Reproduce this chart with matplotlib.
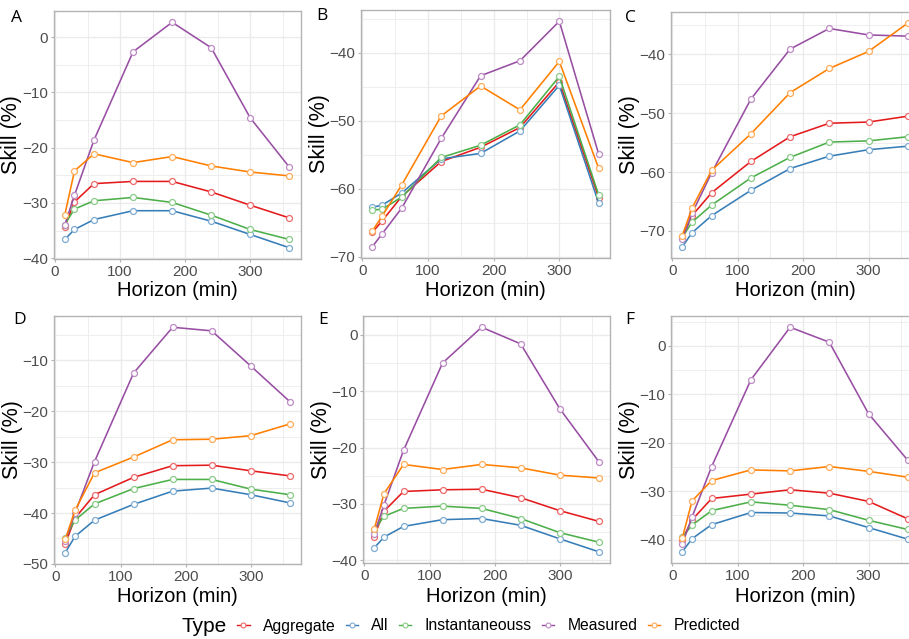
import matplotlib
matplotlib.use("Agg")
import matplotlib.pyplot as plt
from matplotlib.lines import Line2D
import numpy as np

plt.rcParams['font.family'] = ['Liberation Sans', 'DejaVu Sans']

horizon = [15, 30, 60, 120, 180, 240, 300, 360]
types = ["Aggregate", "All", "Instantaneouss", "Measured", "Predicted"]
colors = {"Aggregate": "#E41A1C", "All": "#377EB8", "Instantaneouss": "#4DAF4A",
          "Measured": "#984EA3", "Predicted": "#FF7F00"}

panel_A = {
    "Aggregate":      [-34.3, -29.8, -26.5, -26.1, -26.1, -28.0, -30.4, -32.7],
    "All":            [-36.6, -34.8, -33.0, -31.4, -31.4, -33.3, -35.7, -38.1],
    "Instantaneouss": [-33.9, -31.1, -29.6, -29.0, -29.9, -32.2, -34.8, -36.6],
    "Measured":       [-34.0, -28.6, -18.6, -2.65, 2.7, -1.9, -14.6, -23.5],
    "Predicted":      [-32.2, -24.2, -21.1, -22.7, -21.6, -23.3, -24.4, -25.1],
}
panel_B = {
    "Aggregate":      [-66.4, -64.7, -61.1, -56.0, -53.9, -51.0, -44.3, -61.3],
    "All":            [-62.7, -62.4, -60.6, -55.6, -54.8, -51.5, -44.8, -62.1],
    "Instantaneouss": [-63.1, -63.0, -61.2, -55.4, -53.6, -50.6, -43.5, -60.9],
    "Measured":       [-68.5, -66.6, -62.8, -52.6, -43.4, -41.2, -35.4, -54.9],
    "Predicted":      [-66.2, -64.0, -59.4, -49.3, -44.9, -48.4, -41.3, -57.0],
}
panel_C = {
    "Aggregate":      [-71.1, -67.4, -63.5, -58.2, -54.0, -51.7, -51.5, -50.5],
    "All":            [-72.7, -70.3, -67.4, -63.1, -59.4, -57.3, -56.2, -55.6],
    "Instantaneouss": [-71.1, -68.5, -65.6, -61.0, -57.5, -54.9, -54.7, -54.0],
    "Measured":       [-71.4, -67.0, -60.1, -47.6, -39.1, -35.6, -36.7, -36.9],
    "Predicted":      [-70.8, -66.1, -59.7, -53.5, -46.5, -42.4, -39.5, -34.7],
}
panel_D = {
    "Aggregate":      [-46.1, -41.0, -36.4, -33.0, -30.7, -30.6, -31.7, -32.7],
    "All":            [-47.8, -44.6, -41.4, -38.3, -35.7, -35.1, -36.4, -38.0],
    "Instantaneouss": [-44.9, -41.4, -38.2, -35.2, -33.4, -33.4, -35.3, -36.4],
    "Measured":       [-45.5, -40.0, -29.9, -12.5, -3.5, -4.2, -11.1, -18.1],
    "Predicted":      [-45.2, -39.5, -32.1, -29.0, -25.6, -25.5, -24.8, -22.5],
}
panel_E = {
    "Aggregate":      [-35.8, -31.3, -27.8, -27.5, -27.4, -28.9, -31.2, -33.1],
    "All":            [-37.8, -35.9, -34.0, -32.8, -32.6, -33.8, -36.2, -38.5],
    "Instantaneouss": [-34.7, -32.2, -30.8, -30.4, -30.8, -32.6, -35.1, -36.8],
    "Measured":       [-35.3, -30.2, -20.5, -5.0, 1.35, -1.6, -13.1, -22.5],
    "Predicted":      [-34.5, -28.2, -23.0, -23.9, -23.0, -23.6, -24.9, -25.4],
}
panel_F = {
    "Aggregate":      [-40.0, -35.9, -31.5, -30.6, -29.7, -30.4, -32.1, -35.7],
    "All":            [-42.5, -39.8, -36.9, -34.4, -34.5, -35.1, -37.5, -39.9],
    "Instantaneouss": [-39.5, -37.0, -34.0, -32.2, -32.9, -33.8, -36.0, -37.9],
    "Measured":       [-40.9, -35.3, -24.9, -7.0, 3.85, 0.76, -14.0, -23.6],
    "Predicted":      [-39.7, -32.0, -27.8, -25.6, -25.8, -24.9, -25.9, -27.1],
}

panel_letters = ["A", "B", "C", "D", "E", "F"]
panels = [panel_A, panel_B, panel_C, panel_D, panel_E, panel_F]
yticks_list = [[-40, -30, -20, -10, 0], [-70, -60, -50, -40], [-70, -60, -50, -40],
               [-50, -40, -30, -20, -10], [-40, -30, -20, -10, 0], [-40, -30, -20, -10, 0]]
xticks = [0, 100, 200, 300]

W, H = 909, 639
fig = plt.figure(figsize=(W / 100, H / 100), dpi=100)

# pixel boxes: left, top, right, bottom
boxes = [(53.5, 11, 300.5, 259), (361, 10, 610, 258), (671, 12, 919, 258),
         (54, 316, 301, 564), (363, 316, 610, 563), (671, 316, 919, 563)]
letter_pos = [(11, 10), (316, 8), (625, 10), (13, 312), (318, 312), (625, 312)]
xlabel_y = [291, 290, 290, 597, 597, 597]

grid_col = "#EBEBEB"
border_col = "#B3B3B3"
tick_col = "#4D4D4D"


def lighten(c, f=0.35):
    rgb = np.array(matplotlib.colors.to_rgb(c))
    return tuple(rgb + (1 - rgb) * f)


for i, (data, letter, yt, box) in enumerate(zip(panels, panel_letters, yticks_list, boxes)):
    l, t, r, b = box
    ax = fig.add_axes([l / W, (H - b) / H, (r - l) / W, (b - t) / H])
    for tp in types:
        ax.plot(horizon, data[tp], color=colors[tp], lw=1.15, marker='o', ms=4.3,
                mfc='white', mec=lighten(colors[tp]), mew=0.9, zorder=3)
    allv = np.concatenate([data[tp] for tp in types])
    lo, hi = allv.min(), allv.max()
    pad = 0.05 * (hi - lo)
    ylim = (lo - pad, hi + pad)
    xpad = 0.05 * (max(horizon) - min(horizon))
    xlim = (min(horizon) - xpad, max(horizon) + xpad)
    ax.set_yticks(yt)
    ax.set_xticks(xticks)
    ymin = [v + 5 for v in yt] + [yt[0] - 5]
    ax.set_yticks([v for v in ymin if ylim[0] < v < ylim[1]], minor=True)
    ax.set_xticks([50, 150, 250, 350], minor=True)
    ax.set_ylim(ylim)
    ax.set_xlim(xlim)
    ax.grid(True, which='major', color=grid_col, lw=1.0, zorder=0)
    ax.grid(True, which='minor', color=grid_col, lw=0.6, zorder=0)
    ax.set_axisbelow(True)
    for s in ax.spines.values():
        s.set_color(border_col)
        s.set_linewidth(1.0)
    ax.tick_params(which='major', length=2, color=border_col, labelsize=11,
                   labelcolor=tick_col, pad=2)
    ax.tick_params(which='minor', length=0)
    ax.set_xlabel("Horizon (min)", fontsize=14.5)
    ax.set_ylabel("Skill (%)", fontsize=15.5, labelpad=0)
    ax.xaxis.set_label_coords(0.5, (b - xlabel_y[i]) / (b - t))
    ax.xaxis.label.set_va('center')
    fig.text(letter_pos[i][0] / W, 1 - letter_pos[i][1] / H, letter, fontsize=12.5,
             va='top', ha='left', family=['Open Sans', 'DejaVu Sans'])

# legend
fig.text(182 / W, 1 - 626 / H, "Type", fontsize=15, va='center', ha='left')
handles = [Line2D([0], [0], color=colors[tp], lw=1.0, marker='o', ms=3.5,
                  mfc='white', mec=lighten(colors[tp]), mew=0.8) for tp in types]
fig.legend(handles, types, loc='center left', bbox_to_anchor=(237 / W, 1 - 626 / H),
           ncol=5, frameon=False, fontsize=11.3, handlelength=0.8, handletextpad=0.85,
           columnspacing=0.63, borderaxespad=0, borderpad=0)

fig.savefig("out.png", dpi=100)
